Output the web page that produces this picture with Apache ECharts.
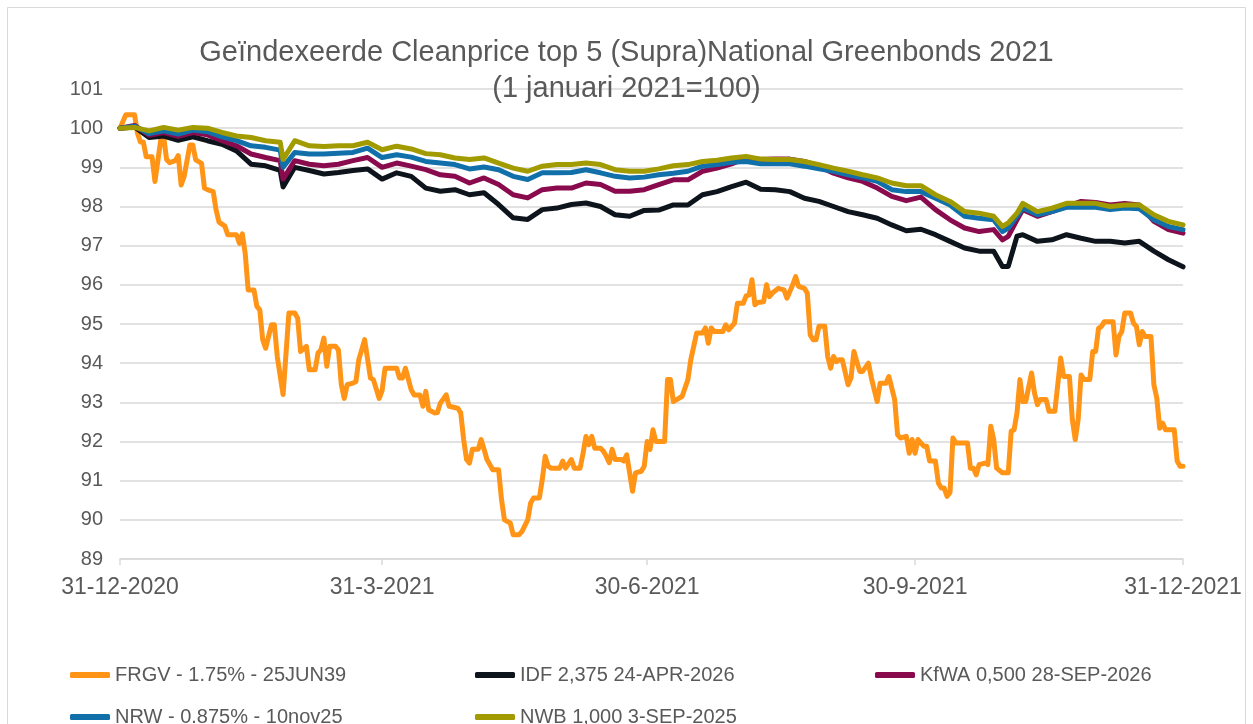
<!DOCTYPE html>
<html>
<head>
<meta charset="utf-8">
<title>Geïndexeerde Cleanprice top 5 (Supra)National Greenbonds 2021</title>
<script src="https://cdn.jsdelivr.net/npm/echarts@6/dist/echarts.min.js"></script>
<style>
  html, body { margin: 0; padding: 0; background: #fff; }
  #chart { width: 1253px; height: 724px; }
</style>
</head>
<body>
<div id="chart"></div>
<script>
// x-as: dagen na 31-12-2020
const tickDays = [0, 90, 181, 273, 365];
const tickLabels = ['31-12-2020', '31-3-2021', '30-6-2021', '30-9-2021', '31-12-2021'];

const seriesNames = ['FRGV - 1.75% - 25JUN39', 'IDF 2,375 24-APR-2026', 'KfWA 0,500 28-SEP-2026', 'NRW - 0.875% - 10nov25', 'NWB 1,000 3-SEP-2025'];

// FRGV (eigen dagen, veel pieken)
const frgvDays = [0, 2, 5, 6, 7, 8, 9, 11, 12, 14, 15, 16, 17, 19, 20, 21, 22, 24, 25, 26, 28, 29, 30, 32, 33, 34, 36, 37, 40, 41, 42, 43, 44, 46, 47, 48, 49, 50, 52, 53, 54, 56, 58, 60, 61, 62, 64, 65, 67, 68, 69, 70, 71, 72, 74, 75, 76, 77, 78, 80, 81, 82, 84, 86, 87, 89, 90, 91, 93, 95, 96, 97, 98, 100, 101, 103, 104, 105, 106, 108, 109, 110, 112, 113, 116, 117, 118, 119, 120, 121, 123, 124, 125, 126, 128, 130, 131, 132, 134, 135, 137, 138, 140, 141, 142, 144, 145, 146, 147, 148, 149, 151, 152, 153, 155, 156, 158, 159, 160, 161, 162, 163, 165, 166, 167, 168, 169, 170, 172, 173, 174, 175, 176, 177, 179, 180, 181, 182, 183, 184, 187, 188, 189, 190, 192, 193, 195, 196, 198, 200, 201, 202, 203, 204, 207, 208, 209, 211, 212, 214, 215, 216, 217, 218, 219, 221, 222, 223, 224, 226, 228, 229, 231, 232, 233, 235, 236, 237, 238, 239, 240, 242, 243, 244, 245, 246, 247, 248, 250, 251, 252, 253, 254, 255, 257, 258, 260, 261, 263, 264, 266, 267, 268, 270, 271, 272, 273, 274, 276, 277, 278, 280, 281, 282, 283, 284, 285, 286, 287, 289, 291, 292, 293, 294, 295, 297, 298, 299, 300, 301, 303, 305, 306, 307, 308, 309, 310, 311, 313, 314, 315, 316, 318, 319, 321, 323, 324, 326, 327, 328, 329, 330, 331, 333, 334, 335, 336, 337, 338, 341, 342, 343, 344, 345, 347, 348, 349, 350, 351, 352, 354, 355, 356, 357, 358, 359, 361, 362, 363, 364, 365];
const frgvValues = [100.0, 100.34, 100.34, 99.87, 99.65, 99.65, 99.27, 99.27, 98.64, 99.7, 99.78, 99.2, 99.12, 99.17, 99.3, 98.55, 98.76, 99.57, 99.57, 99.19, 99.1, 98.47, 98.43, 98.38, 97.91, 97.6, 97.5, 97.28, 97.28, 97.06, 97.3, 96.8, 95.87, 95.87, 95.45, 95.36, 94.6, 94.38, 94.98, 94.98, 94.17, 93.2, 95.28, 95.28, 95.15, 94.3, 94.43, 93.83, 93.83, 94.26, 94.34, 94.64, 93.92, 94.43, 94.43, 94.34, 93.45, 93.1, 93.45, 93.49, 93.53, 94.09, 94.6, 93.62, 93.58, 93.1, 93.3, 93.87, 93.87, 93.87, 93.62, 93.62, 93.87, 93.32, 93.19, 93.19, 92.9, 93.28, 92.81, 92.73, 92.74, 92.98, 93.19, 92.9, 92.85, 92.73, 92.05, 91.54, 91.45, 91.8, 91.8, 92.05, 91.8, 91.54, 91.28, 91.28, 90.52, 90.0, 89.92, 89.62, 89.62, 89.7, 90.0, 90.43, 90.56, 90.56, 91.03, 91.62, 91.37, 91.32, 91.32, 91.32, 91.5, 91.32, 91.54, 91.32, 91.32, 91.7, 92.13, 91.92, 92.13, 91.83, 91.83, 91.75, 91.62, 91.46, 91.8, 91.54, 91.54, 91.5, 91.66, 91.2, 90.73, 91.2, 91.24, 91.37, 92.0, 91.8, 92.3, 92.0, 92.0, 93.58, 93.58, 93.02, 93.11, 93.15, 93.58, 94.09, 94.77, 94.77, 94.9, 94.51, 94.9, 94.81, 94.81, 94.98, 94.85, 95.02, 95.53, 95.53, 95.72, 95.74, 96.13, 95.49, 95.55, 95.57, 96.0, 95.7, 95.79, 95.91, 95.87, 95.66, 96.0, 96.21, 95.96, 95.91, 95.79, 94.72, 94.6, 94.6, 94.94, 94.94, 94.17, 93.87, 94.17, 94.04, 94.09, 94.09, 93.45, 93.62, 94.3, 94.04, 93.79, 93.79, 94.0, 93.62, 93.02, 93.49, 93.49, 93.66, 93.07, 92.17, 92.09, 92.13, 91.7, 92.05, 91.7, 92.05, 91.88, 91.88, 91.5, 91.5, 90.94, 90.81, 90.81, 90.6, 90.7, 92.09, 91.96, 91.96, 91.96, 91.32, 91.32, 91.15, 91.41, 91.45, 91.41, 92.39, 92.05, 91.32, 91.2, 91.2, 92.26, 92.3, 92.73, 93.58, 93.02, 93.02, 93.75, 93.24, 92.94, 93.07, 93.07, 92.77, 92.77, 94.13, 93.66, 93.66, 92.56, 92.05, 92.56, 93.7, 93.58, 93.58, 94.3, 94.3, 94.89, 94.94, 95.06, 95.06, 94.21, 94.68, 94.81, 95.28, 95.28, 95.02, 94.94, 94.47, 94.81, 94.68, 94.68, 93.45, 93.11, 92.34, 92.47, 92.3, 92.3, 92.3, 91.5, 91.37, 91.37];

// overige vier obligaties (gemeenschappelijke dagen)
const topDays = [0, 5, 10, 15, 20, 25, 30, 35, 40, 45, 50, 55, 56, 60, 65, 70, 75, 80, 85, 90, 95, 100, 105, 110, 115, 120, 125, 130, 135, 140, 145, 150, 155, 160, 165, 170, 175, 180, 185, 190, 195, 200, 205, 210, 215, 220, 225, 230, 235, 240, 245, 250, 255, 260, 265, 270, 275, 280, 285, 290, 295, 300, 303, 305, 308, 310, 315, 320, 325, 330, 335, 340, 345, 350, 355, 360, 365];
const idfValues = [100, 100.03, 99.76, 99.8, 99.69, 99.78, 99.68, 99.59, 99.42, 99.08, 99.04, 98.92, 98.5, 99.0, 98.92, 98.83, 98.87, 98.92, 98.96, 98.7, 98.86, 98.77, 98.47, 98.39, 98.43, 98.3, 98.35, 98.05, 97.71, 97.67, 97.92, 97.96, 98.05, 98.09, 98.0, 97.79, 97.75, 97.9, 97.91, 98.04, 98.04, 98.3, 98.38, 98.51, 98.62, 98.44, 98.43, 98.38, 98.21, 98.13, 98.0, 97.87, 97.79, 97.7, 97.53, 97.38, 97.42, 97.28, 97.11, 96.94, 96.86, 96.86, 96.47, 96.47, 97.24, 97.28, 97.11, 97.15, 97.28, 97.19, 97.11, 97.11, 97.07, 97.11, 96.86, 96.64, 96.46];
const kfwaValues = [100, 100.07, 99.82, 99.89, 99.79, 99.89, 99.83, 99.68, 99.55, 99.34, 99.25, 99.17, 98.7, 99.17, 99.08, 99.04, 99.08, 99.17, 99.25, 99.0, 99.11, 99.03, 98.94, 98.81, 98.77, 98.6, 98.73, 98.56, 98.3, 98.22, 98.43, 98.47, 98.47, 98.6, 98.56, 98.39, 98.39, 98.43, 98.56, 98.68, 98.68, 98.9, 98.98, 99.09, 99.24, 99.2, 99.21, 99.21, 99.15, 99.03, 98.85, 98.73, 98.64, 98.47, 98.26, 98.15, 98.24, 97.92, 97.66, 97.45, 97.36, 97.41, 97.15, 97.24, 97.66, 97.92, 97.75, 97.87, 98.0, 98.13, 98.1, 98.04, 98.08, 98.04, 97.62, 97.41, 97.32];
const nrwValues = [100, 100.05, 99.86, 99.93, 99.85, 99.95, 99.91, 99.78, 99.68, 99.55, 99.51, 99.44, 99.0, 99.38, 99.34, 99.34, 99.36, 99.38, 99.49, 99.25, 99.32, 99.26, 99.15, 99.11, 99.07, 98.96, 99.01, 98.94, 98.77, 98.69, 98.86, 98.86, 98.87, 98.94, 98.86, 98.77, 98.73, 98.75, 98.81, 98.85, 98.9, 99.03, 99.07, 99.13, 99.15, 99.09, 99.09, 99.09, 99.03, 98.96, 98.9, 98.81, 98.73, 98.64, 98.43, 98.38, 98.38, 98.21, 98.04, 97.75, 97.7, 97.66, 97.36, 97.45, 97.75, 97.96, 97.79, 97.87, 97.98, 97.98, 97.98, 97.92, 97.96, 97.94, 97.66, 97.49, 97.41];
const nwbValues = [100, 100.02, 99.93, 100.02, 99.95, 100.02, 100.0, 99.89, 99.8, 99.76, 99.68, 99.64, 99.2, 99.68, 99.55, 99.53, 99.55, 99.55, 99.64, 99.45, 99.54, 99.47, 99.35, 99.32, 99.24, 99.2, 99.24, 99.11, 98.98, 98.9, 99.03, 99.07, 99.07, 99.11, 99.07, 98.94, 98.9, 98.9, 98.96, 99.04, 99.07, 99.15, 99.18, 99.24, 99.28, 99.21, 99.2, 99.2, 99.15, 99.07, 98.98, 98.9, 98.81, 98.73, 98.6, 98.53, 98.53, 98.3, 98.13, 97.87, 97.83, 97.75, 97.49, 97.58, 97.83, 98.08, 97.87, 97.96, 98.08, 98.08, 98.08, 98.0, 98.04, 98.04, 97.79, 97.62, 97.53];

const colors = ['#ff9416', '#0e141b', '#8a0a4e', '#1170aa', '#a29b00'];
const textColor = '#595959';
const font = 'Liberation Sans, Arial, sans-serif';

function pairs(days, values) {
  return days.map(function (d, i) { return [d, values[i]]; });
}

const chart = echarts.init(document.getElementById('chart'));

// legenda: drie kolommen, twee rijen
const legendPos = [[65, 660], [470, 660], [870, 660], [65, 702], [470, 702]];

const option = {
  backgroundColor: '#fff',
  animation: false,
  color: colors,
  title: {
    text: 'Geïndexeerde Cleanprice top 5 (Supra)National Greenbonds 2021\n(1 januari 2021=100)',
    left: 'center',
    top: 30,
    textStyle: {
      fontFamily: font,
      fontWeight: 'normal',
      fontSize: 29,
      lineHeight: 36,
      color: textColor
    }
  },
  graphic: [{
    type: 'rect',
    shape: { x: 7.5, y: 7.5, width: 1238, height: 740 },
    style: { fill: 'none', stroke: '#d9d9d9', lineWidth: 1 },
    silent: true
  }],
  legend: seriesNames.map(function (name, i) {
    return {
      data: [name],
      left: legendPos[i][0],
      top: legendPos[i][1],
      icon: 'roundRect',
      itemWidth: 40,
      itemHeight: 6,
      itemGap: 10,
      textStyle: { fontFamily: font, fontSize: 20, color: textColor }
    };
  }),
  grid: {
    left: 120,
    right: 70,
    top: 89,
    bottom: 165
  },
  xAxis: {
    type: 'value',
    min: 0,
    max: 365,
    axisLine: { lineStyle: { color: '#d9d9d9', width: 1.5 } },
    axisTick: { customValues: tickDays, length: 6, lineStyle: { color: '#d9d9d9', width: 1.5 } },
    splitLine: { show: false },
    axisLabel: {
      customValues: tickDays,
      showMinLabel: true,
      showMaxLabel: true,
      margin: 17,
      fontFamily: font,
      fontSize: 23,
      color: textColor,
      formatter: function (v) {
        const i = tickDays.indexOf(v);
        return i >= 0 ? tickLabels[i] : '';
      }
    }
  },
  yAxis: {
    type: 'value',
    min: 89,
    max: 101,
    interval: 1,
    axisLine: { show: false },
    axisTick: { show: false },
    splitLine: { lineStyle: { color: '#d9d9d9', width: 1.5 } },
    axisLabel: { margin: 17, fontFamily: font, fontSize: 20, color: textColor }
  },
  series: [
    { name: seriesNames[0], data: pairs(frgvDays, frgvValues) },
    { name: seriesNames[1], data: pairs(topDays, idfValues) },
    { name: seriesNames[2], data: pairs(topDays, kfwaValues) },
    { name: seriesNames[3], data: pairs(topDays, nrwValues) },
    { name: seriesNames[4], data: pairs(topDays, nwbValues) }
  ].map(function (s) {
    return Object.assign({
      type: 'line',
      showSymbol: false,
      smooth: false,
      lineStyle: { width: 5, cap: 'round', join: 'round' }
    }, s);
  })
};

chart.setOption(option);
</script>
</body>
</html>
